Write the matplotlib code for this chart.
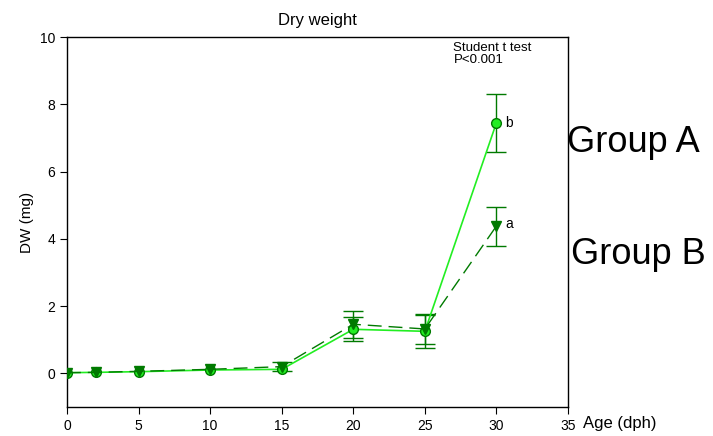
import numpy as np
import matplotlib.pyplot as plt

plt.rcParams['font.family'] = ['Liberation Sans', 'DejaVu Sans']

age = [0, 2, 5, 10, 15, 20, 25, 30]
group_a = [0.02, 0.03, 0.05, 0.1, 0.12, 1.31, 1.25, 7.45]
group_a_err = [0.0, 0.0, 0.0, 0.0, 0.0, 0.36, 0.5, 0.87]
group_b = [0.02, 0.03, 0.06, 0.12, 0.2, 1.46, 1.32, 4.38]
group_b_err = [0.0, 0.0, 0.0, 0.0, 0.13, 0.4, 0.45, 0.58]

light = '#22ee22'
dark = '#007a00'

fig = plt.figure(figsize=(7.13, 4.36), dpi=100)
ax = fig.add_axes([67 / 713, 29 / 436, 501 / 713, 370 / 436])

# lines + markers
ax.plot(age, group_a, color=light, ls='-', lw=1.2, marker='o', ms=7,
        mfc=light, mec=dark, zorder=3)
ax.plot(age, group_b, color=dark, ls=(0, (10, 5)), lw=1, marker='v', ms=7,
        mfc=dark, mec=dark, zorder=4)

# error bars only where there is an error
for y, err in [(group_a, group_a_err), (group_b, group_b_err)]:
    idx = [i for i, e in enumerate(err) if e > 0]
    ax.errorbar([age[i] for i in idx], [y[i] for i in idx],
                yerr=[err[i] for i in idx], fmt='none', ecolor=dark,
                elinewidth=1, capsize=7, capthick=1, zorder=2)

ax.text(30.6, group_a[-1], 'b', fontsize=10, va='center', ha='left')
ax.text(30.6, group_b[-1] + 0.05, 'a', fontsize=10, va='center', ha='left')
ax.text(27.0, 9.85, 'Student t test\nP<0.001', fontsize=9.5, va='top', ha='left',
        linespacing=1.0)

ax.set_xlim(0, 35)
ax.set_ylim(-1, 10)
ax.set_xticks([0, 5, 10, 15, 20, 25, 30, 35])
ax.set_yticks([0, 2, 4, 6, 8, 10])
ax.tick_params(direction='out', length=5, labelsize=10, top=False, right=False)
for s in ax.spines.values():
    s.set_linewidth(1)
ax.set_ylabel('DW (mg)', fontsize=11)
ax.set_title('Dry weight', fontsize=12, pad=9)

fig.text(583 / 713, 1 - 423 / 436, 'Age (dph)', fontsize=12, va='center', ha='left')
fig.text(567 / 713, 1 - 143 / 436, 'Group A', fontsize=26, va='center', ha='left')
fig.text(571 / 713, 1 - 254 / 436, 'Group B', fontsize=26, va='center', ha='left')

fig.savefig('out.png', dpi=100)
